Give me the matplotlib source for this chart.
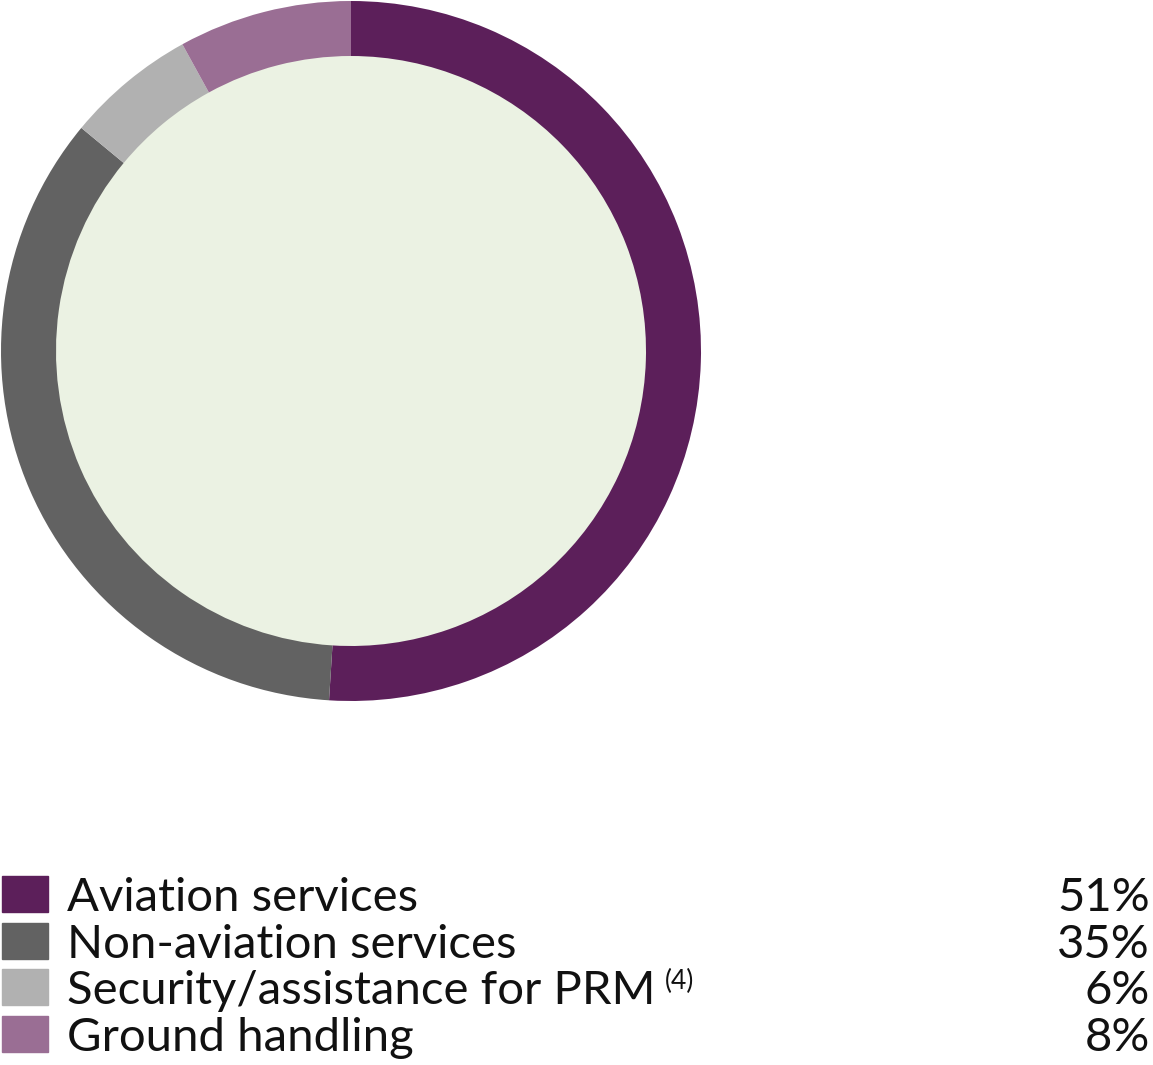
import matplotlib
matplotlib.use("Agg")
from matplotlib import pyplot as plt
from matplotlib.font_manager import FontProperties

labels = ["Aviation services", "Non-aviation services",
          "Security/assistance for PRM", "Ground handling"]
shares = [51, 35, 6, 8]
colors = ["#5c1f5a", "#626262", "#b1b1b1", "#9a6e94"]
superscripts = ["", "", "(4)", ""]

W, H = 1153, 1065
fig = plt.figure(figsize=(W / 100, H / 100), dpi=100)
renderer = fig.canvas.get_renderer()

# pick the narrowest-looking font that is installed
target = 417 - 66
best = None
for fam, st in [("DejaVu Sans", "condensed"), ("Liberation Sans Narrow", "normal"),
                ("Lato", "normal"), ("Roboto", "normal"), ("Inter", "normal"),
                ("Noto Sans", "normal"), ("DejaVu Sans", "normal")]:
    fp = FontProperties(family=fam, stretch=st, size=35)
    t = fig.text(0, 0, labels[0], fontproperties=fp)
    w = t.get_window_extent(renderer).width
    t.remove()
    if best is None or abs(w - target) < abs(best[2] - target):
        best = (fam, st, w)
fam, st, w = best
size = max(30, min(36, 35 * target / w))


def font(s):
    return FontProperties(family=fam, stretch=st, size=s)


# donut: centre (351, 351) px, outer radius 350 px
ax = fig.add_axes([1 / W, (H - 701) / H, 700 / W, 700 / H])
ax.pie(shares, colors=colors, startangle=90, counterclock=False,
       radius=1.0, wedgeprops=dict(width=55 / 350, linewidth=0))
ax.add_patch(plt.Circle((0, 0), 1 - 55 / 350, color="#ebf2e3", zorder=0))
ax.set_xlim(-1, 1)
ax.set_ylim(-1, 1)
ax.set_aspect("equal")
ax.axis("off")


def px(x, y):
    return x / W, 1 - y / H


row_y = [894, 941, 987, 1034]
for lab, val, col, sup, y in zip(labels, shares, colors, superscripts, row_y):
    x0, y0 = px(2, y + 18)
    fig.patches.append(plt.Rectangle((x0, y0), 46 / W, 36 / H, color=col,
                                     transform=fig.transFigure, figure=fig))
    t = fig.text(*px(67, y + 4), lab, fontproperties=font(size),
                 va="center", ha="left", color="#111111")
    fig.text(*px(1150, y + 4), f"{val}%", fontproperties=font(size),
             va="center", ha="right", color="#111111")
    if sup:
        bb = t.get_window_extent(renderer)
        fig.text((bb.x1 + 9) / W, 1 - (y - 6) / H, sup, fontproperties=font(19),
                 va="center", ha="left", color="#111111")

fig.savefig("out.png", dpi=100, facecolor="white")
